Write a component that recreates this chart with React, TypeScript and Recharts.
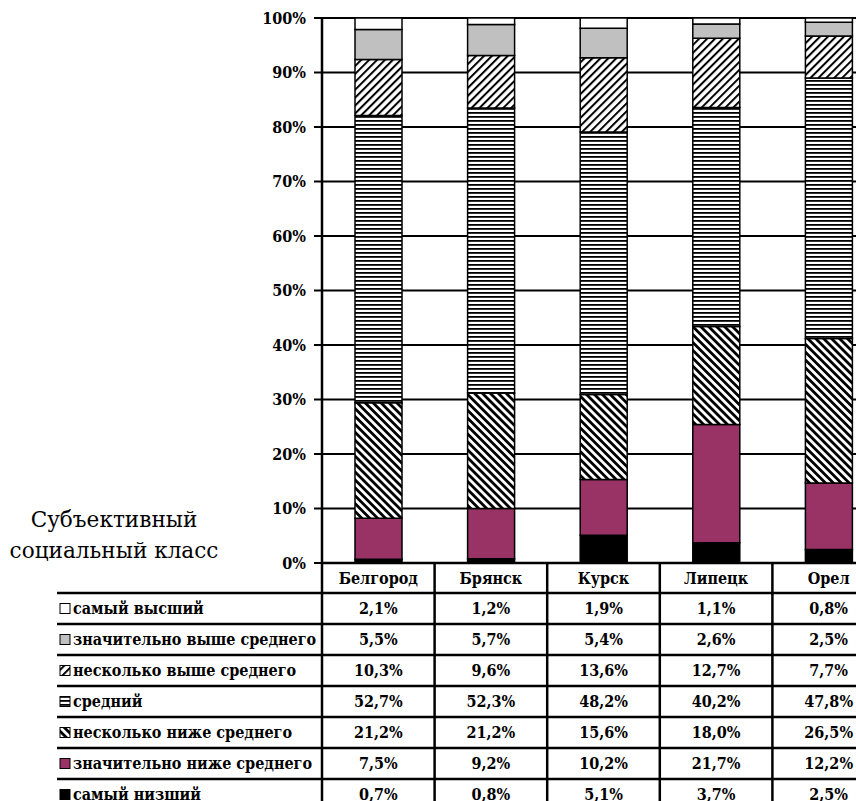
import React from 'react';
import { BarChart, Bar, XAxis, YAxis, CartesianGrid, Customized } from 'recharts';

// ---- data ----
const categories = ['Белгород', 'Брянск', 'Курск', 'Липецк', 'Орел'];
const highest = [2.1, 1.2, 1.9, 1.1, 0.8];
const sigAbove = [5.5, 5.7, 5.4, 2.6, 2.5];
const somewhatAbove = [10.3, 9.6, 13.6, 12.7, 7.7];
const middle = [52.7, 52.3, 48.2, 40.2, 47.8];
const somewhatBelow = [21.2, 21.2, 15.6, 18.0, 26.5];
const sigBelow = [7.5, 9.2, 10.2, 21.7, 12.2];
const lowest = [0.7, 0.8, 5.1, 3.7, 2.5];
const classLabels = [
  'самый высший',
  'значительно выше среднего',
  'несколько выше среднего',
  'средний',
  'несколько ниже среднего',
  'значительно ниже среднего',
  'самый низший',
];
const yTicks = [0, 10, 20, 30, 40, 50, 60, 70, 80, 90, 100];
const sideTitle = ['Субъективный', 'социальный класс'];

// ---- layout / style ----
const CHART_W = 890;
const CHART_H = 801;
const MARGIN = { top: 18, right: 5, bottom: 0, left: 262 };
const Y_AXIS_W = 60;
const PLOT_LEFT = MARGIN.left + Y_AXIS_W;
const PLOT_RIGHT = CHART_W - MARGIN.right;
const PLOT_BOTTOM = 563;
const X_AXIS_H = CHART_H - PLOT_BOTTOM - MARGIN.bottom;
const HEADER_H = 30;
const ROW_H = 31;
const TABLE_LEFT = 57;
const FONT = '"DejaVu Serif Condensed", "DejaVu Serif", serif';
const TITLE_FONT = '"DejaVu Serif", serif';
const TEXT_SIZE = 16;

const series = [
  { key: 'highest', label: classLabels[0], values: highest, fill: '#ffffff' },
  { key: 'sigAbove', label: classLabels[1], values: sigAbove, fill: '#c0c0c0' },
  { key: 'somewhatAbove', label: classLabels[2], values: somewhatAbove, fill: 'url(#patFwd)' },
  { key: 'middle', label: classLabels[3], values: middle, fill: 'url(#patHoriz)' },
  { key: 'somewhatBelow', label: classLabels[4], values: somewhatBelow, fill: 'url(#patBack)' },
  { key: 'sigBelow', label: classLabels[5], values: sigBelow, fill: '#993366' },
  { key: 'lowest', label: classLabels[6], values: lowest, fill: '#000000' },
];

const data = categories.map((name, i) => {
  const row: Record<string, any> = { name };
  series.forEach((s) => {
    row[s.key] = s.values[i];
  });
  return row;
});

const fmt = (v: number) => v.toFixed(1).replace('.', ',') + '%';

const textStyle = { fontStretch: 'condensed' as const };

const TableColumn = (props: any) => {
  const { x, payload } = props;
  const i = categories.indexOf(payload.value);
  const bw = (PLOT_RIGHT - PLOT_LEFT) / categories.length;
  return (
    <g>
      <text
        x={x}
        y={PLOT_BOTTOM + HEADER_H / 2}
        textAnchor="middle"
        dominantBaseline="central"
        fontFamily={FONT}
        fontWeight="bold"
        fontSize={TEXT_SIZE}
        style={textStyle}
        fill="#000"
      >
        {payload.value}
      </text>
      {series.map((s, r) => (
        <text
          key={s.key}
          x={x}
          y={PLOT_BOTTOM + HEADER_H + r * ROW_H + ROW_H / 2}
          textAnchor="middle"
          dominantBaseline="central"
          fontFamily={FONT}
          fontWeight="bold"
          fontSize={TEXT_SIZE}
          style={textStyle}
          fill="#000"
        >
          {fmt(s.values[i])}
        </text>
      ))}
      <line
        x1={x + bw / 2}
        x2={x + bw / 2}
        y1={PLOT_BOTTOM}
        y2={CHART_H}
        stroke="#000"
        strokeWidth={2.5}
      />
    </g>
  );
};

const TableFrame = () => (
  <g>
    {series.map((s, r) => (
      <line
        key={'h' + s.key}
        x1={TABLE_LEFT}
        x2={PLOT_RIGHT}
        y1={PLOT_BOTTOM + HEADER_H + r * ROW_H}
        y2={PLOT_BOTTOM + HEADER_H + r * ROW_H}
        stroke="#000"
        strokeWidth={2.5}
      />
    ))}
    <line x1={PLOT_LEFT} x2={PLOT_LEFT} y1={PLOT_BOTTOM} y2={CHART_H} stroke="#000" strokeWidth={2.5} />
    {series.map((s, r) => {
      const cy = PLOT_BOTTOM + HEADER_H + r * ROW_H + ROW_H / 2;
      return (
        <g key={'l' + s.key}>
          <rect x={60} y={cy - 5} width={10} height={10} fill={s.fill} stroke="#000" strokeWidth={1} />
          <text
            x={73}
            y={cy}
            dominantBaseline="central"
            fontFamily={FONT}
            fontWeight="bold"
            fontSize={TEXT_SIZE}
            style={textStyle}
            fill="#000"
          >
            {s.label}
          </text>
        </g>
      );
    })}
    {sideTitle.map((t, k) => (
      <text
        key={t}
        x={114}
        y={527 + k * 31}
        textAnchor="middle"
        fontFamily={TITLE_FONT}
        fontSize={21.6}
        fill="#000"
      >
        {t}
      </text>
    ))}
  </g>
);

const Patterns = () => (
  <svg width={0} height={0} style={{ position: 'absolute' }}>
    <defs>
      <pattern id="patHoriz" patternUnits="userSpaceOnUse" width={8} height={4}>
        <rect x={0} y={0} width={8} height={4} fill="#fff" />
        <rect x={0} y={0} width={8} height={1.8} fill="#000" />
      </pattern>
      <pattern id="patFwd" patternUnits="userSpaceOnUse" width={5.6} height={5.6} patternTransform="rotate(45)">
        <rect x={0} y={0} width={5.6} height={5.6} fill="#fff" />
        <rect x={0} y={0} width={2} height={5.6} fill="#000" />
      </pattern>
      <pattern id="patBack" patternUnits="userSpaceOnUse" width={5.6} height={5.6} patternTransform="rotate(-45)">
        <rect x={0} y={0} width={5.6} height={5.6} fill="#fff" />
        <rect x={0} y={0} width={2.8} height={5.6} fill="#000" />
      </pattern>
    </defs>
  </svg>
);

const stackOrder = [...series].reverse();

export default function App() {
  return (
    <div
      style={{
        position: 'absolute',
        left: 0,
        top: 0,
        width: 856,
        height: 801,
        overflow: 'hidden',
        background: '#fff',
      }}
    >
      <Patterns />
      <BarChart width={CHART_W} height={CHART_H} data={data} margin={MARGIN} barSize={47}>
        <CartesianGrid vertical={false} stroke="#000" strokeWidth={2} />
        <XAxis
          dataKey="name"
          height={X_AXIS_H}
          interval={0}
          axisLine={{ stroke: '#000', strokeWidth: 2.5 }}
          tickLine={false}
          tick={<TableColumn />}
        />
        <YAxis
          type="number"
          domain={[0, 100]}
          allowDataOverflow
          ticks={yTicks}
          width={Y_AXIS_W}
          tickFormatter={(v: number) => v + '%'}
          axisLine={{ stroke: '#000', strokeWidth: 2.5 }}
          tickLine={{ stroke: '#000', strokeWidth: 2 }}
          tickSize={8}
          tickMargin={8}
          tick={{ fill: '#000', fontFamily: FONT, fontWeight: 'bold', fontSize: 16, style: textStyle }}
        />
        {stackOrder.map((s) => (
          <Bar
            key={s.key}
            dataKey={s.key}
            stackId="a"
            fill={s.fill}
            stroke="#000"
            strokeWidth={1.5}
            isAnimationActive={false}
          />
        ))}
        <Customized component={TableFrame} />
      </BarChart>
    </div>
  );
}
